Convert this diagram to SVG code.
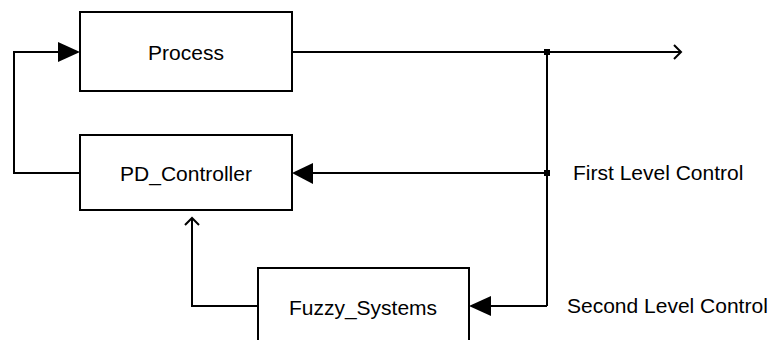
<svg xmlns="http://www.w3.org/2000/svg" width="776" height="340" viewBox="0 0 776 340">
  <defs>
    <style>
      .box { fill: #ffffff; stroke: #000000; stroke-width: 2; }
      .wire { fill: none; stroke: #000000; stroke-width: 2; }
      .head { fill: #000000; stroke: none; }
      .open { fill: none; stroke: #000000; stroke-width: 2; }
      .label { font-family: "Liberation Sans", Arial, sans-serif; font-size: 21px; fill: #000000; }
    </style>
  </defs>
  <rect width="776" height="340" fill="#ffffff"/>

  <!-- connectors -->
  <g id="connectors">
    <!-- feedback from PD_Controller into Process -->
    <polyline class="wire" points="80,173 14,173 14,52 60,52"/>
    <polygon class="head" points="80,52 58,42 58,62"/>

    <!-- process output -->
    <line class="wire" x1="292" y1="52" x2="681" y2="52"/>
    <polyline class="open" points="674,45 681,52 674,59"/>

    <!-- measurement branch -->
    <line class="wire" x1="547" y1="52" x2="547" y2="306"/>
    <rect class="head" x="544" y="49" width="6" height="6"/>
    <rect class="head" x="544" y="170" width="6" height="6"/>

    <!-- first level control -->
    <line class="wire" x1="547" y1="173" x2="312" y2="173"/>
    <polygon class="head" points="292,173 313,163 313,184"/>

    <!-- second level control -->
    <line class="wire" x1="547" y1="306" x2="490" y2="306"/>
    <polygon class="head" points="469,306 491,296 491,316"/>

    <!-- fuzzy output to PD_Controller -->
    <polyline class="wire" points="258,306 192,306 192,218"/>
    <polyline class="open" points="185,225 192,218 199,225"/>
  </g>

  <g id="process">
    <rect class="box" x="80" y="12" width="212" height="79"/>
    <text class="label" x="186" y="60" text-anchor="middle">Process</text>
  </g>

  <g id="pd_controller">
    <rect class="box" x="80" y="135" width="212" height="75"/>
    <text class="label" x="186" y="181" text-anchor="middle">PD_Controller</text>
  </g>

  <g id="fuzzy_systems">
    <rect class="box" x="258" y="268" width="211" height="80"/>
    <text class="label" x="363" y="315" text-anchor="middle">Fuzzy_Systems</text>
  </g>

  <g id="labels">
    <text class="label" x="573" y="180">First Level Control</text>
    <text class="label" x="567" y="313">Second Level Control</text>
  </g>
</svg>
